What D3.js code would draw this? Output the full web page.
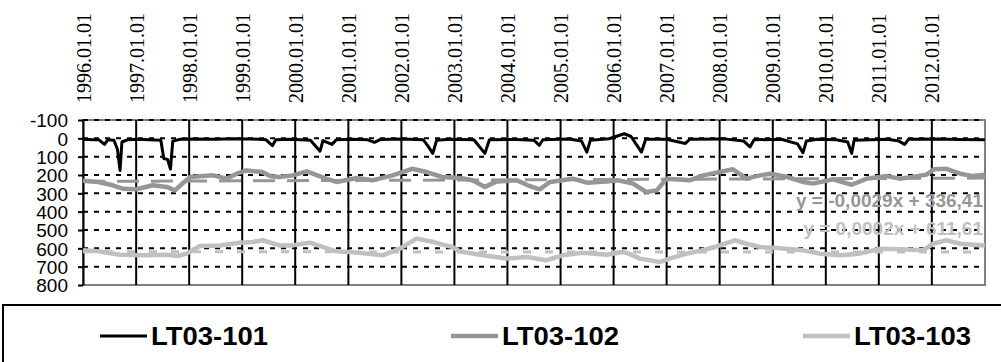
<!DOCTYPE html>
<html>
<head>
<meta charset="utf-8">
<script src="https://cdnjs.cloudflare.com/ajax/libs/d3/7.8.5/d3.min.js"></script>
<style>
  body { margin: 0; background: #fff; }
  svg { display: block; }
</style>
</head>
<body>
<svg id="svg-container"></svg>
<script>
// LT03-101
const dates101 = ['1996-01-01','1996-03-15','1996-04-20','1996-05-28','1996-06-20','1996-08-01','1996-08-25','1996-09-12','1996-09-25','1996-11-01',
  '1997-01-15','1997-04-01','1997-06-20','1997-07-10','1997-08-05','1997-08-25','1997-09-10','1997-11-01','1998-03-01','1998-07-01',
  '1998-11-01','1999-03-01','1999-06-15','1999-07-28','1999-08-20','1999-12-01','2000-04-15','2000-06-20','2000-07-10','2000-09-10',
  '2000-10-10','2001-02-01','2001-05-15','2001-06-30','2001-08-10','2002-01-01','2002-06-01','2002-07-01','2002-08-05','2002-09-01',
  '2002-12-01','2003-05-15','2003-07-30','2003-08-30','2004-03-01','2004-07-01','2004-08-08','2004-09-01','2005-03-01','2005-05-25',
  '2005-07-01','2005-07-25','2005-12-01','2006-03-15','2006-05-01','2006-07-12','2006-08-10','2007-01-01','2007-05-10','2007-06-10',
  '2008-02-01','2008-06-15','2008-07-28','2008-08-25','2009-03-01','2009-06-20','2009-07-28','2009-08-20','2009-11-01','2010-03-15',
  '2010-06-01','2010-06-28','2010-07-15','2011-03-01','2011-05-20','2011-06-28','2011-07-25','2012-02-01','2012-07-01','2012-12-31'];
const values101 = [5, 8, 8, 33, 8, 10, 60, 175, 20, 8,
  5, 8, 10, 110, 115, 168, 15, 5, 3, 5,
  2, 3, 8, 40, 8, 5, 10, 70, 12, 33,
  8, 5, 8, 22, 6, 4, 8, 40, 82, 10,
  5, 8, 82, 8, 6, 10, 38, 8, 4, 15,
  75, 10, 2, -25, -10, 75, 5, 5, 28, 5,
  3, 15, 47, 8, 5, 30, 78, 15, 5, 8,
  20, 82, 10, 5, 15, 33, 5, 3, 6, 8];

// LT03-102
const dates102 = ['1996-01-01','1996-04-15','1996-07-25','1996-10-01','1997-01-01','1997-04-25','1997-07-30','1997-09-25','1997-11-15','1998-01-10',
  '1998-06-15','1998-09-15','1998-11-25','1999-01-30','1999-05-20','1999-07-15','1999-09-15','1999-12-15','2000-03-20','2000-08-01',
  '2000-10-10','2001-03-01','2001-06-15','2001-11-01','2002-03-15','2002-06-25','2002-10-10','2003-02-10','2003-05-05','2003-07-30',
  '2003-10-20','2004-03-05','2004-05-20','2004-08-10','2004-10-20','2005-03-25','2005-07-01','2005-11-15','2006-02-01','2006-05-15',
  '2006-08-15','2006-10-25','2007-01-01','2007-06-10','2007-09-10','2008-01-01','2008-04-01','2008-07-05','2008-10-05','2008-12-15',
  '2009-04-10','2009-07-28','2009-10-05','2010-02-20','2010-06-28','2010-10-10','2011-02-25','2011-05-25','2011-08-20','2011-11-25',
  '2012-01-15','2012-04-10','2012-07-15','2012-10-10','2012-12-31'];
const values102 = [232, 238, 256, 275, 278, 256, 265, 284, 247, 211,
  202, 220, 193, 175, 184, 207, 211, 202, 180, 220,
  238, 216, 229, 202, 166, 184, 211, 216, 229, 265,
  235, 229, 256, 278, 238, 220, 242, 235, 229, 247,
  293, 284, 220, 229, 202, 184, 169, 220, 202, 193,
  211, 238, 247, 224, 253, 220, 206, 220, 211, 198,
  169, 166, 193, 206, 198];

// LT03-103
const dates103 = ['1996-01-01','1996-04-15','1996-09-10','1997-03-01','1997-07-30','1997-10-15','1997-12-15','1998-03-15','1998-07-30','1998-12-15',
  '1999-03-15','1999-05-20','1999-09-15','1999-12-15','2000-04-10','2000-10-10','2001-03-15','2001-08-25','2001-12-20','2002-04-15',
  '2002-08-10','2002-10-10','2002-12-20','2003-02-05','2003-07-15','2003-12-28','2004-05-15','2004-09-25','2005-01-15','2005-06-01',
  '2005-11-15','2006-03-05','2006-04-15','2006-07-01','2006-11-15','2007-01-20','2007-05-20','2007-10-05','2008-01-01','2008-04-15',
  '2008-07-05','2008-10-05','2009-01-30','2009-07-28','2009-11-20','2010-04-10','2010-08-20','2011-01-10','2011-05-25','2011-10-30',
  '2012-01-10','2012-04-10','2012-07-15','2012-12-31'];
const values103 = [611, 616, 635, 638, 635, 642, 629, 587, 584, 569,
  565, 556, 584, 584, 569, 616, 624, 638, 602, 547,
  565, 580, 593, 616, 638, 656, 647, 665, 638, 624,
  635, 620, 629, 656, 675, 656, 629, 605, 584, 556,
  575, 593, 598, 611, 629, 638, 629, 602, 605, 611,
  575, 556, 575, 584];

// linear trendlines (ends) and their equations
const trendDates = ['1996-01-01', '2013-01-01'];
const trend102 = [235, 217];
const trend103 = [619, 620];
const equations = ['y = -0,0029x + 336,41', 'y = 0,0002x + 611,61'];

const seriesNames = ['LT03-101', 'LT03-102', 'LT03-103'];
const yTicks = [-100, 0, 100, 200, 300, 400, 500, 600, 700, 800];
const yearTicks = d3.range(1996, 2013);

const parse = d3.timeParse('%Y-%m-%d');
const toPoints = (ds, vs) => ds.map((d, i) => ({ date: parse(d), value: vs[i] }));

const series = [
  { name: seriesNames[0], color: '#000000', width: 3, points: toPoints(dates101, values101) },
  { name: seriesNames[1], color: '#969696', width: 4.5, points: toPoints(dates102, values102) },
  { name: seriesNames[2], color: '#c0c0c0', width: 4.5, points: toPoints(dates103, values103) }
];
const trends = [
  { color: '#969696', dash: '22,12', points: toPoints(trendDates, trend102) },
  { color: '#c0c0c0', dash: '8,14', points: toPoints(trendDates, trend103) }
];

const W = 1001, H = 362;
const plot = { left: 83, right: 985, top: 120, bottom: 285 };

const svg = d3.select('#svg-container')
              .attr('width', W)
              .attr('height', H);

const x = d3.scaleTime()
            .domain([parse('1996-01-01'), parse('2013-01-01')])
            .range([plot.left, plot.right]);

const y = d3.scaleLinear()
            .domain([-100, 800])
            .range([plot.top, plot.bottom]);

// plot border
svg.append('rect')
   .attr('x', plot.left)
   .attr('y', plot.top)
   .attr('width', plot.right - plot.left)
   .attr('height', plot.bottom - plot.top)
   .attr('fill', 'none')
   .attr('stroke', '#808080')
   .attr('stroke-width', 2);

// horizontal dashed grid
svg.append('g')
   .selectAll('line')
   .data(yTicks.slice(0, -1))
   .enter()
   .append('line')
   .attr('x1', plot.left)
   .attr('x2', plot.right)
   .attr('y1', d => y(d))
   .attr('y2', d => y(d))
   .attr('stroke', '#000')
   .attr('stroke-width', 2)
   .attr('stroke-dasharray', '5,6');

// vertical year grid
svg.append('g')
   .selectAll('line')
   .data(yearTicks.slice(1))
   .enter()
   .append('line')
   .attr('x1', d => x(new Date(d, 0, 1)))
   .attr('x2', d => x(new Date(d, 0, 1)))
   .attr('y1', plot.top)
   .attr('y2', plot.bottom)
   .attr('stroke', '#000')
   .attr('stroke-width', 2);

// Y axis
const yAxis = svg.append('g')
   .attr('transform', `translate(${plot.left},0)`)
   .call(d3.axisLeft(y).tickValues(yTicks).tickFormat(d => String(d))
                       .tickSize(5).tickSizeOuter(0).tickPadding(10));
yAxis.select('.domain').attr('stroke', '#000').attr('stroke-width', 2);
yAxis.selectAll('.tick line').attr('stroke', '#000').attr('stroke-width', 2);
yAxis.selectAll('text')
     .attr('fill', '#000')
     .attr('dy', '0.36em')
     .style('font-family', '"Liberation Sans", Arial, sans-serif')
     .style('font-size', '19px');

// X axis (top, rotated labels)
const xAxis = svg.append('g')
   .attr('transform', `translate(0,${plot.top})`)
   .call(d3.axisTop(x).tickValues(yearTicks.map(d => new Date(d, 0, 1)))
                      .tickFormat(d3.timeFormat('%Y.%m.%d')).tickSize(0));
xAxis.select('.domain').remove();
xAxis.selectAll('text')
     .attr('transform', 'rotate(-90)')
     .attr('x', 17)
     .attr('y', 0)
     .attr('dy', '0.35em')
     .attr('fill', '#000')
     .style('text-anchor', 'start')
     .style('font-family', '"Liberation Serif", "Times New Roman", serif')
     .style('font-size', '20px');

const line = d3.line()
               .x(d => x(d.date))
               .y(d => y(d.value));

// trendlines
svg.append('g')
   .selectAll('path')
   .data(trends)
   .enter()
   .append('path')
   .attr('d', d => line(d.points))
   .attr('fill', 'none')
   .attr('stroke', d => d.color)
   .attr('stroke-width', 3)
   .attr('stroke-dasharray', d => d.dash);

// series lines
svg.append('g')
   .selectAll('path')
   .data(series)
   .enter()
   .append('path')
   .attr('d', d => line(d.points))
   .attr('fill', 'none')
   .attr('stroke', d => d.color)
   .attr('stroke-width', d => d.width)
   .attr('stroke-linejoin', 'round');

// trendline equations
svg.append('g')
   .selectAll('text')
   .data(equations)
   .enter()
   .append('text')
   .attr('x', 983)
   .attr('y', (d, i) => 207 + i * 28)
   .attr('text-anchor', 'end')
   .attr('fill', (d, i) => trends[i].color)
   .style('font-family', '"Liberation Sans", Arial, sans-serif')
   .style('font-weight', 'bold')
   .style('font-size', '19px')
   .text(d => d);

// Legend
svg.append('rect')
   .attr('x', 3)
   .attr('y', 305)
   .attr('width', 1010)
   .attr('height', 80)
   .attr('fill', 'none')
   .attr('stroke', '#000')
   .attr('stroke-width', 2);

const legendX = [100, 451, 803];
const legend = svg.append('g')
   .selectAll('g')
   .data(series)
   .enter()
   .append('g')
   .attr('transform', (d, i) => `translate(${legendX[i]},336)`);

legend.append('line')
      .attr('x1', 0)
      .attr('x2', 47)
      .attr('stroke', d => d.color)
      .attr('stroke-width', d => d.width);

legend.append('text')
      .attr('x', 51)
      .attr('dy', '0.36em')
      .attr('fill', '#000')
      .attr('textLength', 117)
      .attr('lengthAdjust', 'spacingAndGlyphs')
      .style('font-family', '"Liberation Sans", Arial, sans-serif')
      .style('font-weight', 'bold')
      .style('font-size', '25px')
      .text(d => d.name);
</script>
</body>
</html>
